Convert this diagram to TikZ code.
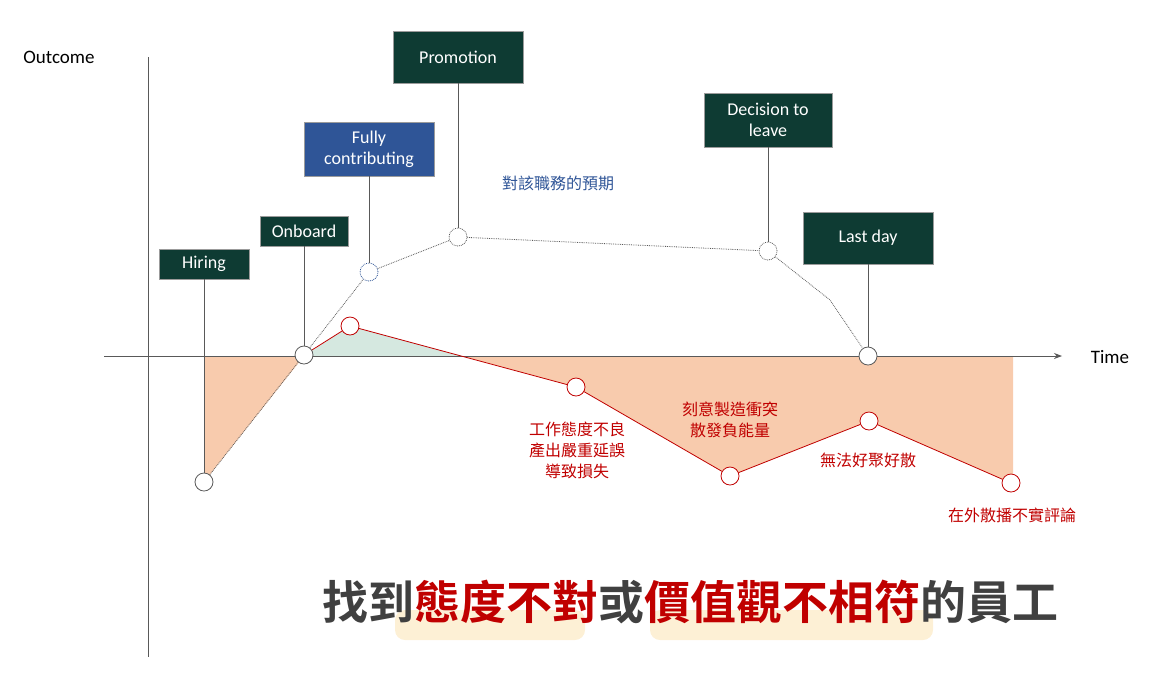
\documentclass[tikz,border=0pt]{standalone}
\usepackage{fontspec}
\setmainfont{Carlito}
\newfontfamily\cjk{Noto Sans CJK TC}
\newfontfamily\cjkbold{Noto Sans CJK TC Bold}
\usetikzlibrary{arrows.meta}
\definecolor{boxgreen}{HTML}{0E3B33}
\definecolor{boxblue}{HTML}{2F5597}
\definecolor{linered}{HTML}{C00000}
\definecolor{axisgray}{HTML}{595959}
\definecolor{fillorange}{HTML}{F8CBAD}
\definecolor{fillgreen}{HTML}{D5E8E0}
\definecolor{hilite}{HTML}{FDF0D5}
\definecolor{titlegray}{HTML}{404040}
\tikzset{
  milestone/.style={fill=boxgreen, draw=axisgray!60, text=white, align=center,
    font=\fontsize{18}{21}\selectfont, inner sep=3pt, minimum height=30pt},
  dot/.style={circle, draw=axisgray, thick, fill=white, minimum size=18pt, inner sep=0pt},
  reddot/.style={dot, draw=linered},
  plandot/.style={dot, densely dotted, draw=axisgray},
  note/.style={text=linered, align=center, font=\cjk\fontsize{16}{21}\selectfont},
}
\begin{document}
\begin{tikzpicture}[x=1pt, y=-1pt]
  \useasboundingbox (0,0) rectangle (1155,673);
  % filled areas
  \fill[fillorange] (204,356) -- (204,482) -- (304,356) -- cycle;
  \fill[fillgreen] (304,356) -- (350,326) -- (462,356) -- cycle;
  \fill[fillorange] (462,356) -- (576,387) -- (730,476) -- (869,421) -- (1011,483) -- (1013,483) -- (1013,356) -- cycle;
  % axes
  \draw[axisgray, thick] (148,57) -- (148,657);
  \draw[axisgray, thick, -{Stealth[length=8pt]}] (104,356) -- (1062,356);
  \node[font=\fontsize{19}{22}\selectfont] (outcome) at (59,57) {Outcome};
  \node[font=\fontsize{19}{22}\selectfont] (time) at (1110,357) {Time};
  % milestone boxes
  \node[milestone, minimum width=90pt] (hiring) at (204,264) {Hiring};
  \node[milestone, minimum width=88pt] (onboard) at (304,231) {Onboard};
  \node[milestone, fill=boxblue, minimum width=130pt, minimum height=54pt] (fully) at (369,149) {Fully\\contributing};
  \node[milestone, minimum width=130pt, minimum height=52pt] (promo) at (458,57) {Promotion};
  \node[milestone, minimum width=128pt, minimum height=54pt] (decide) at (768,120) {Decision to\\leave};
  \node[milestone, minimum width=130pt, minimum height=52pt] (last) at (868,238) {Last day};
  % expected curve
  \node[dot] (p1) at (204,482) {};
  \node[dot] (p2) at (304,355) {};
  \node[plandot, draw=boxblue] (p3) at (369,272) {};
  \node[plandot] (p4) at (458,237) {};
  \node[plandot] (p5) at (768,251) {};
  \node[dot] (p6) at (868,356) {};
  \coordinate (bend) at (830,300);
  \draw[axisgray, thick, densely dotted] (p1) -- (p2) -- (p3) -- (p4) -- (p5) -- (bend) -- (p6);
  \foreach \b/\p in {hiring/p1, onboard/p2, fully/p3, promo/p4, decide/p5, last/p6}
    \draw[axisgray] (\b) -- (\p);
  \node[text=boxblue, font=\cjk\fontsize{16}{20}\selectfont] (expect) at (558,183) {對該職務的預期};
  % actual curve
  \node[reddot] (r1) at (350,326) {};
  \node[reddot] (r2) at (576,387) {};
  \node[reddot] (r3) at (730,476) {};
  \node[reddot] (r4) at (869,421) {};
  \node[reddot] (r5) at (1011,483) {};
  \draw[linered, thick] (p2) -- (r1) -- (r2) -- (r3) -- (r4) -- (r5);
  \node[note] (n2) at (577,450) {工作態度不良\\產出嚴重延誤\\導致損失};
  \node[note] (n3) at (730,420) {刻意製造衝突\\散發負能量};
  \node[note] (n4) at (868,460) {無法好聚好散};
  \node[note] (n5) at (1012,515) {在外散播不實評論};
  % title
  \fill[hilite, rounded corners=10pt] (395,610) rectangle (585,640);
  \fill[hilite, rounded corners=10pt] (650,610) rectangle (933,640);
  \node[font=\cjkbold\fontsize{46}{50}\selectfont, text=titlegray] (title) at (690,602)
    {找到\textcolor{linered}{態度不對}或\textcolor{linered}{價值觀不相符}的員工};
\end{tikzpicture}
\end{document}
